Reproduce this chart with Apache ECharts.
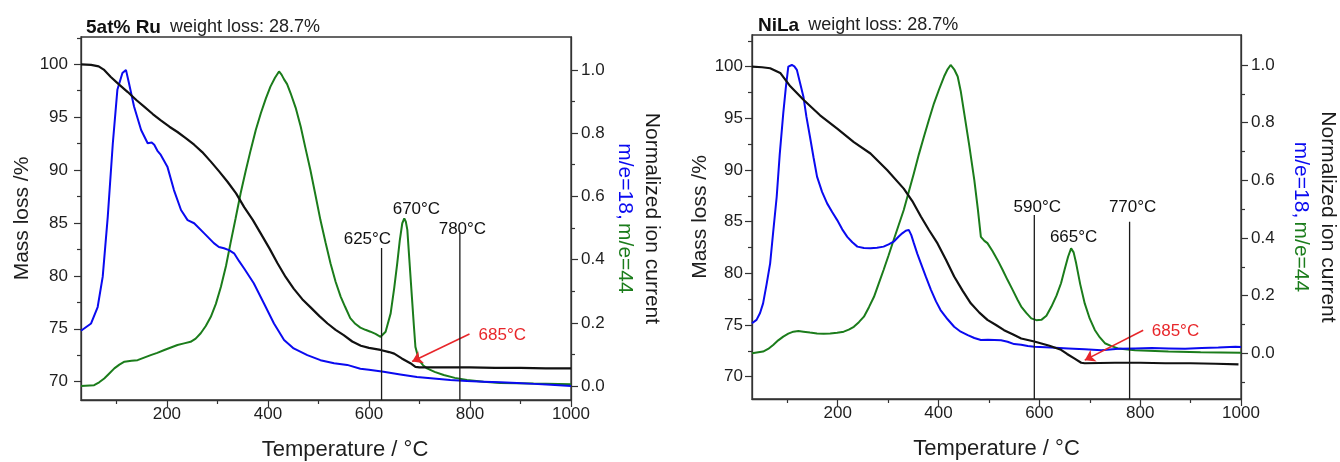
<!DOCTYPE html>
<html><head><meta charset="utf-8">
<script src="https://cdn.jsdelivr.net/npm/echarts@6/dist/echarts.min.js"></script>
<style>html,body{margin:0;padding:0;background:#fff}#c{width:1340px;height:462px}</style>
</head><body><div id="c"></div>
<script>
// ---------------- DATA ----------------
const xTickLabels = [200, 400, 600, 800, 1000];
const xMinorTicks = [100, 300, 500, 700, 900];
const massTickLabels = [70, 75, 80, 85, 90, 95, 100];
const massMinorTicks = [72.5, 77.5, 82.5, 87.5, 92.5, 97.5, 102.5];
const ionTickLabels = [0, 0.2, 0.4, 0.6, 0.8, 1.0];
const ionMinorTicksRu = [0.1, 0.3, 0.5, 0.7, 0.9];
const ionMinorTicksNi = [-0.1, 0.1, 0.3, 0.5, 0.7, 0.9];

// 5at% Ru : mass (%) vs T
const ruMass = [[30,100],[50,99.95],[65,99.8],[75,99.5],[89,98.8],[105,98.1],[122,97.4],[140,96.6],[155,96.0],[172,95.3],[188,94.7],[205,94.1],[221,93.6],[238,93.0],[254,92.4],[270,91.7],[287,90.8],[303,89.9],[320,88.9],[337,87.8],[353,86.5],[370,85.3],[386,84.0],[403,82.6],[419,81.2],[435,79.9],[451,78.8],[468,77.8],[485,77.0],[502,76.2],[518,75.5],[534,74.9],[550,74.4],[567,73.8],[584,73.4],[600,73.2],[623,73.0],[640,72.8],[650,72.65],[665,72.2],[682,71.75],[692,71.4],[700,71.35],[750,71.35],[800,71.35],[850,71.3],[900,71.3],[950,71.25],[1000,71.25]];
// 5at% Ru : m/e=18
const ruH2O = [[30,0.175],[50,0.198],[63,0.25],[73,0.346],[83,0.536],[93,0.768],[102,0.937],[112,0.99],[119,1.0],[125,0.958],[135,0.884],[149,0.81],[162,0.768],[170,0.77],[175,0.763],[181,0.745],[188,0.731],[201,0.694],[214,0.62],[228,0.557],[241,0.525],[254,0.515],[274,0.483],[293,0.452],[303,0.44],[313,0.436],[323,0.43],[333,0.42],[343,0.395],[353,0.372],[372,0.325],[392,0.262],[412,0.198],[432,0.146],[451,0.119],[478,0.098],[504,0.082],[531,0.072],[557,0.067],[583,0.055],[600,0.052],[629,0.045],[662,0.037],[695,0.029],[728,0.024],[761,0.019],[794,0.016],[827,0.014],[860,0.012],[893,0.01],[926,0.007],[960,0.004],[1000,0.0]];
// 5at% Ru : m/e=44
const ruCO2 = [[30,0.0],[56,0.003],[66,0.012],[76,0.024],[86,0.04],[96,0.056],[106,0.068],[116,0.077],[130,0.08],[142,0.082],[155,0.09],[168,0.098],[181,0.105],[195,0.114],[208,0.122],[221,0.13],[234,0.135],[247,0.14],[257,0.15],[267,0.167],[277,0.19],[287,0.219],[297,0.26],[307,0.314],[317,0.38],[326,0.452],[336,0.53],[346,0.61],[356,0.68],[366,0.747],[376,0.81],[386,0.863],[396,0.91],[405,0.947],[414,0.975],[422,0.995],[427,0.985],[432,0.97],[438,0.955],[445,0.926],[455,0.88],[465,0.82],[474,0.755],[484,0.684],[494,0.605],[504,0.525],[514,0.455],[524,0.388],[534,0.33],[544,0.283],[553,0.25],[563,0.215],[573,0.197],[583,0.185],[593,0.178],[603,0.172],[613,0.165],[623,0.156],[633,0.172],[643,0.23],[650,0.31],[656,0.388],[661,0.46],[666,0.515],[670,0.53],[673,0.52],[676,0.494],[680,0.4],[685,0.283],[689,0.19],[692,0.124],[699,0.082],[707,0.066],[715,0.056],[730,0.045],[748,0.035],[770,0.026],[794,0.019],[827,0.014],[860,0.01],[926,0.008],[1000,0.006]];

// NiLa : mass (%)
const niMass = [[30,100],[50,99.95],[66,99.85],[86,99.4],[106,98.1],[132,96.8],[165,95.3],[199,94.0],[232,92.7],[265,91.6],[298,90.0],[331,88.2],[348,87.0],[365,85.5],[381,84.2],[398,82.9],[415,81.3],[431,79.7],[448,78.3],[464,77.1],[481,76.2],[497,75.5],[514,75.0],[530,74.5],[547,74.1],[564,73.7],[590,73.4],[620,73.0],[643,72.6],[655,72.2],[670,71.75],[683,71.35],[690,71.3],[750,71.35],[800,71.35],[850,71.3],[900,71.3],[950,71.25],[995,71.2]];
// NiLa : m/e=18
const niH2O = [[30,0.104],[39,0.116],[46,0.14],[52,0.173],[59,0.24],[66,0.312],[72,0.42],[79,0.543],[85,0.69],[92,0.832],[97,0.92],[102,0.994],[109,1.0],[114,0.995],[119,0.983],[125,0.94],[132,0.89],[138,0.82],[145,0.751],[152,0.68],[159,0.613],[169,0.56],[179,0.52],[189,0.49],[199,0.462],[209,0.43],[219,0.404],[229,0.385],[239,0.37],[252,0.365],[265,0.364],[278,0.366],[291,0.37],[301,0.378],[311,0.387],[321,0.405],[328,0.416],[335,0.425],[341,0.428],[346,0.41],[351,0.382],[358,0.345],[365,0.312],[375,0.265],[385,0.22],[395,0.18],[404,0.15],[418,0.118],[431,0.092],[444,0.075],[458,0.063],[471,0.053],[484,0.046],[498,0.047],[511,0.046],[524,0.045],[537,0.04],[550,0.032],[564,0.03],[577,0.025],[590,0.023],[623,0.02],[657,0.017],[690,0.014],[723,0.011],[757,0.016],[790,0.017],[823,0.018],[856,0.017],[889,0.016],[922,0.018],[955,0.02],[989,0.023],[1000,0.022]];
// NiLa : m/e=44
const niCO2 = [[30,0.0],[52,0.006],[62,0.015],[72,0.029],[82,0.045],[92,0.058],[102,0.068],[112,0.075],[122,0.077],[132,0.075],[145,0.072],[159,0.069],[172,0.068],[185,0.069],[199,0.071],[212,0.075],[222,0.082],[232,0.092],[242,0.108],[252,0.127],[262,0.16],[272,0.196],[281,0.24],[291,0.289],[301,0.34],[311,0.393],[321,0.445],[331,0.497],[341,0.56],[351,0.624],[361,0.69],[371,0.751],[381,0.81],[391,0.867],[401,0.915],[411,0.96],[418,0.985],[424,1.0],[431,0.985],[438,0.96],[444,0.91],[451,0.832],[461,0.72],[471,0.601],[478,0.5],[484,0.404],[491,0.39],[497,0.382],[507,0.355],[517,0.324],[527,0.29],[537,0.254],[547,0.22],[557,0.185],[564,0.162],[574,0.14],[584,0.121],[594,0.115],[604,0.116],[614,0.13],[624,0.162],[634,0.2],[643,0.243],[650,0.29],[657,0.335],[663,0.364],[668,0.35],[673,0.312],[681,0.24],[690,0.173],[700,0.12],[710,0.081],[720,0.055],[730,0.035],[743,0.025],[756,0.017],[790,0.011],[856,0.006],[920,0.004],[1000,0.002]];

// vertical marker lines: temperature and top (ion-current units)
const ruMarkT = [625, 780];
const ruMarkTop = [0.437, 0.484];
const niMarkT = [590, 779];
const niMarkTop = [0.48, 0.456];
// annotation texts (anchor in T / ion-current units)
const ruNotes = [['625°C', 597, 0.465], ['780°C', 785, 0.497], ['670°C', 694, 0.56]];
const niNotes = [['590°C', 596, 0.508], ['770°C', 785, 0.508], ['665°C', 668, 0.404]];
const ruRedNote = ['685°C', 864, 0.161];
const niRedNote = ['685°C', 870, 0.075];
// red arrows: [tailT, tailMass, tipT, tipMass]
const ruArrow = [799, 74.5, 685.6, 71.9];
const niArrow = [806, 74.5, 690, 71.6];

// ---------------- STYLE / LAYOUT ----------------
const FONT = '"Liberation Sans", Arial, Helvetica, sans-serif';
const AX = '#333';
const TXT = '#1e1e1e';
const BLUE = '#0a0af0';
const GREEN = '#1b7c1b';
const RED = '#e8262a';

const panels = [
  { name: '5at% Ru', mass: ruMass, h2o: ruH2O, co2: ruCO2, markT: ruMarkT, markTop: ruMarkTop, notes: ruNotes, red: ruRedNote, arrow: ruArrow,
    ionMinor: ionMinorTicksRu,
    grid: { left: 81, top: 37, width: 490, height: 363 },
    massMin: 68.27, massMax: 102.58, ionMin: -0.044, ionMax: 1.104,
    xNamePad: [0, 0, 0, 38], yLabMargin: 13, yNameGap: 48, yNamePad: [0, 0, 0, 0], rNameGap: 40, titleLeft: 81, titleTop: 13 },
  { name: 'NiLa', mass: niMass, h2o: niH2O, co2: niCO2, markT: niMarkT, markTop: niMarkTop, notes: niNotes, red: niRedNote, arrow: niArrow,
    ionMinor: ionMinorTicksNi,
    grid: { left: 752, top: 35, width: 489, height: 364 },
    massMin: 67.84, massMax: 103.07, ionMin: -0.1585, ionMax: 1.104,
    xNamePad: [0, 0, 0, 0], yLabMargin: 9, yNameGap: 40, yNamePad: [0, 0, 0, 0], rNameGap: 46, titleLeft: 753, titleTop: 11 }
];

const xAxes = [], yAxes = [], series = [], grids = [], titles = [];
panels.forEach((P, p) => {
  grids.push(Object.assign({ show: true, borderColor: AX, borderWidth: 1.3, backgroundColor: 'transparent', outerBoundsMode: 'none', containLabel: false }, P.grid));
  titles.push({
    left: P.titleLeft, top: P.titleTop,
    text: '{b|' + P.name + '}{n|weight loss: 28.7%}',
    textStyle: { fontWeight: 'normal', rich: {
      b: { fontFamily: FONT, fontWeight: 'bold', fontSize: 19, color: '#111' },
      n: { fontFamily: FONT, fontWeight: 'normal', fontSize: 18, color: '#222', padding: [0, 0, 0, 9] }
    } }
  });
  const tickStyle = { color: AX, width: 1.2 };
  xAxes.push({
    gridIndex: p, type: 'value', position: 'bottom', min: 30, max: 1000,
    axisLine: { show: true, onZero: false, lineStyle: { color: AX, width: 1.3 } },
    axisTick: { show: true, customValues: xTickLabels, length: 7, lineStyle: tickStyle },
    axisLabel: { show: true, customValues: xTickLabels, margin: 6, fontSize: 17, color: TXT, fontFamily: FONT,
      formatter: v => String(Math.round(v)) },
    splitLine: { show: false },
    name: 'Temperature / °C', nameLocation: 'middle', nameGap: 39,
    nameTextStyle: { fontSize: 22, color: TXT, fontFamily: FONT, padding: P.xNamePad }
  });
  xAxes.push({
    gridIndex: p, type: 'value', position: 'bottom', min: 30, max: 1000,
    axisLine: { show: false, onZero: false },
    axisTick: { show: true, customValues: xMinorTicks, length: 4, lineStyle: tickStyle },
    axisLabel: { show: false }, splitLine: { show: false }
  });
  yAxes.push({
    gridIndex: p, type: 'value', position: 'left', min: P.massMin, max: P.massMax,
    axisLine: { show: true, onZero: false, lineStyle: { color: AX, width: 1.3 } },
    axisTick: { show: true, customValues: massTickLabels, length: 7, lineStyle: tickStyle },
    axisLabel: { show: true, customValues: massTickLabels, margin: P.yLabMargin, fontSize: 17, color: TXT, fontFamily: FONT,
      formatter: v => String(Math.round(v)) },
    splitLine: { show: false },
    name: 'Mass loss /%', nameLocation: 'middle', nameGap: P.yNameGap,
    nameTextStyle: { fontSize: 21, color: TXT, fontFamily: FONT }
  });
  yAxes.push({
    gridIndex: p, type: 'value', position: 'left', min: P.massMin, max: P.massMax,
    axisLine: { show: false, onZero: false },
    axisTick: { show: true, customValues: massMinorTicks, length: 4, lineStyle: tickStyle },
    axisLabel: { show: false }, splitLine: { show: false }
  });
  yAxes.push({
    gridIndex: p, type: 'value', position: 'right', min: P.ionMin, max: P.ionMax,
    axisLine: { show: true, onZero: false, lineStyle: { color: AX, width: 1.3 } },
    axisTick: { show: true, customValues: ionTickLabels, length: 7, lineStyle: tickStyle },
    axisLabel: { show: true, customValues: ionTickLabels, margin: 10, fontSize: 17, color: TXT, fontFamily: FONT,
      formatter: v => Number(v).toFixed(1) },
    splitLine: { show: false },
    name: '{a|Normalized ion current}\n{b|m/e=18,} {g|m/e=44}',
    nameLocation: 'middle', nameRotate: -90, nameGap: P.rNameGap,
    nameTextStyle: { fontFamily: FONT, rich: {
      a: { fontSize: 21, color: '#1a1a1a', lineHeight: 27, fontFamily: FONT },
      b: { fontSize: 21, color: BLUE, lineHeight: 27, fontFamily: FONT },
      g: { fontSize: 21, color: GREEN, lineHeight: 27, fontFamily: FONT }
    } }
  });
  yAxes.push({
    gridIndex: p, type: 'value', position: 'right', min: P.ionMin, max: P.ionMax,
    axisLine: { show: false, onZero: false },
    axisTick: { show: true, customValues: P.ionMinor, length: 4, lineStyle: tickStyle },
    axisLabel: { show: false }, splitLine: { show: false }
  });

  const xi = 2 * p, yMass = 4 * p, yIon = 4 * p + 2;
  const lineBase = { type: 'line', xAxisIndex: xi, showSymbol: false, symbol: 'none', silent: true, animation: false };
  series.push(Object.assign({}, lineBase, { name: P.name + ' m/e=44', yAxisIndex: yIon, data: P.co2, lineStyle: { color: GREEN, width: 2 }, z: 3 }));
  series.push(Object.assign({}, lineBase, { name: P.name + ' m/e=18', yAxisIndex: yIon, data: P.h2o, lineStyle: { color: BLUE, width: 2 }, z: 4 }));
  series.push(Object.assign({}, lineBase, {
    name: P.name + ' mass', yAxisIndex: yMass, data: P.mass, lineStyle: { color: '#111', width: 2.2 }, z: 5,
    markLine: {
      silent: true, animation: false, symbol: ['none', 'arrow'], symbolSize: 10,
      lineStyle: { color: RED, width: 1.6, type: 'solid' }, label: { show: false },
      emphasis: { disabled: true },
      data: [[{ coord: [P.arrow[0], P.arrow[1]] }, { coord: [P.arrow[2], P.arrow[3]] }]]
    }
  }));
  P.markT.forEach((t, i) => {
    series.push(Object.assign({}, lineBase, {
      name: 'marker ' + t, yAxisIndex: yIon, z: 6,
      data: [[t, P.markTop[i]], [t, P.ionMin]],
      lineStyle: { color: '#1a1a1a', width: 1.3 }
    }));
  });
  series.push({
    type: 'scatter', xAxisIndex: xi, yAxisIndex: yIon, symbolSize: 0, silent: true, animation: false, z: 7,
    data: P.notes.map(n => ({ name: n[0], value: [n[1], n[2]] })),
    label: { show: true, position: 'inside', formatter: '{b}', fontSize: 17, fontFamily: FONT, color: '#111', opacity: 1 }
  });
  series.push({
    type: 'scatter', xAxisIndex: xi, yAxisIndex: yIon, symbolSize: 0, silent: true, animation: false, z: 7,
    data: [{ name: P.red[0], value: [P.red[1], P.red[2]] }],
    label: { show: true, position: 'inside', formatter: '{b}', fontSize: 17, fontFamily: FONT, color: RED, opacity: 1 }
  });
});

const chart = echarts.init(document.getElementById('c'), null, { renderer: 'canvas' });
chart.setOption({
  backgroundColor: '#fff',
  animation: false,
  textStyle: { fontFamily: FONT },
  title: titles,
  grid: grids,
  xAxis: xAxes,
  yAxis: yAxes,
  series: series
});
</script>
</body></html>
